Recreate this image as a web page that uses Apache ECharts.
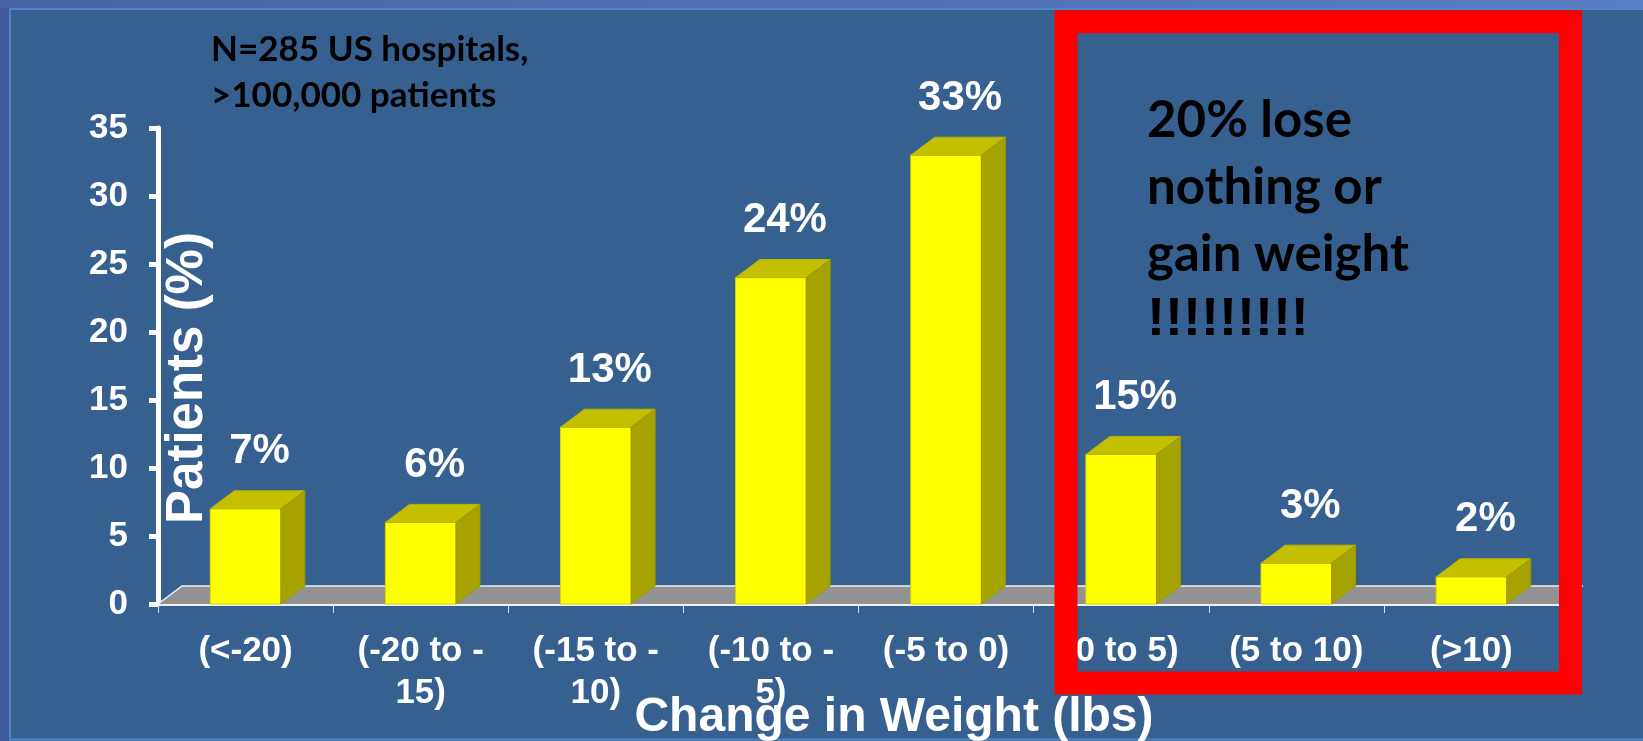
<!DOCTYPE html>
<html>
<head>
<meta charset="utf-8">
<style>
  html, body { margin: 0; padding: 0; background: #36608f; }
  #chart { width: 1643px; height: 741px; }
</style>
<script src="https://cdn.jsdelivr.net/npm/echarts@6/dist/echarts.min.js"></script>
</head>
<body>
<div id="chart"></div>
<script>
// ---- data ----
const categories = ['(<-20)', '(-20 to -15)', '(-15 to -10)', '(-10 to -5)', '(-5 to 0)', '(0 to 5)', '(5 to 10)', '(>10)'];
const patientsPct = [7, 6, 13, 24, 33, 11, 3, 2];
const barLabels = ['7%', '6%', '13%', '24%', '33%', '15%', '3%', '2%'];
const yAxisTitle = 'Patients (%)';
const xAxisTitle = 'Change in Weight (lbs)';
const noteText = ['N=285 US hospitals,', '>100,000 patients'];
const boxText = ['20% lose', 'nothing or', 'gain weight', '!!!!!!!!!'];

// ---- style ----
const ARIAL = '"Liberation Sans", Arial, sans-serif';
const CAL = 'Lato, "Open Sans", sans-serif';
const DX = 24, DY = 18;

const chart = echarts.init(document.getElementById('chart'), null, { renderer: 'canvas' });

function renderFloor(params, api) {
  const cs = params.coordSys;
  const y0 = api.coord([0, 0])[1];
  const l = cs.x, r = cs.x + cs.width;
  return {
    type: 'group',
    children: [
      { type: 'polygon', shape: { points: [[l, y0], [l + DX, y0 - DY], [r + DX, y0 - DY], [r, y0]] },
        style: { fill: '#929292' } },
      { type: 'polyline', shape: { points: [[l, y0], [l + DX, y0 - DY], [r + DX, y0 - DY]] },
        style: { stroke: '#f0f0f0', lineWidth: 1.5, fill: null } },
      { type: 'line', shape: { x1: l, y1: y0 + 1, x2: r, y2: y0 + 1 },
        style: { stroke: '#f0f0f0', lineWidth: 2 } }
    ]
  };
}

function renderBar(params, api) {
  const i = api.value(0), v = api.value(1);
  const base = api.coord([i, 0]);
  const top = api.coord([i, v]);
  const bw = api.size([1, 0])[0] * 0.403;
  const x0 = base[0] - bw / 2, x1 = base[0] + bw / 2;
  const y0 = base[1], y1 = top[1];
  return {
    type: 'group',
    children: [
      { type: 'rect', shape: { x: x0, y: y1, width: bw, height: y0 - y1 },
        style: { fill: '#ffff00', stroke: '#d8d800', lineWidth: 1 } },
      { type: 'polygon', shape: { points: [[x0, y1], [x0 + DX, y1 - DY], [x1 + DX, y1 - DY], [x1, y1]] },
        style: { fill: '#c4c000', stroke: '#b8b400', lineWidth: 1 } },
      { type: 'polygon', shape: { points: [[x1, y1], [x1 + DX, y1 - DY], [x1 + DX, y0 - DY], [x1, y0]] },
        style: { fill: '#a6a200', stroke: '#9c9800', lineWidth: 1 } },
      { type: 'text', x: base[0] + 14, y: y1 - 36,
        style: { text: barLabels[params.dataIndex], fill: '#ffffff', font: 'bold 42px ' + ARIAL,
                 align: 'center', verticalAlign: 'bottom' } }
    ]
  };
}

const option = {
  backgroundColor: '#36608f',
  animation: false,
  grid: { left: 158, right: 84, top: 128, bottom: 137, containLabel: false },
  xAxis: {
    type: 'category',
    data: categories,
    boundaryGap: true,
    axisLine: { show: true, lineStyle: { color: '#f0f0f0', width: 2 } },
    axisTick: { show: true, length: 9, lineStyle: { color: '#dddddd', width: 1 } },
    axisLabel: {
      color: '#ffffff', fontFamily: ARIAL, fontWeight: 'bold', fontSize: 35,
      lineHeight: 42, margin: 26, interval: 0,
      formatter: v => v.replace(' to -', ' to -\n')
    },
    splitLine: { show: false }
  },
  yAxis: {
    type: 'value', min: 0, max: 35, interval: 5,
    axisLine: { show: true, lineStyle: { color: '#ffffff', width: 5 } },
    axisTick: { show: true, length: 9, lineStyle: { color: '#ffffff', width: 5 } },
    axisLabel: { color: '#ffffff', fontFamily: ARIAL, fontWeight: 'bold', fontSize: 35, margin: 30 },
    splitLine: { show: false }
  },
  series: [
    { type: 'custom', name: 'floor', data: [[0, 0]], renderItem: renderFloor, silent: true, z: 1 },
    { type: 'custom', name: 'Patients', data: patientsPct.map((v, i) => [i, v]), renderItem: renderBar, z: 3,
      encode: { x: 0, y: 1 } }
  ],
  graphic: [
    { type: 'rect', shape: { x: 0, y: 0, width: 9, height: 741 }, style: { fill: '#3e5a9c' }, z: -5 },
    { type: 'rect', shape: { x: 0, y: 0, width: 1643, height: 8 },
      style: { fill: new echarts.graphic.LinearGradient(0, 0, 1, 0, [{ offset: 0, color: '#4762a6' }, { offset: 1, color: '#5a7ec4' }]) }, z: -5 },
    { type: 'polyline', shape: { points: [[10, 741], [10, 9], [1643, 9]] }, style: { stroke: '#4f85c6', lineWidth: 2, fill: null }, z: -4 },
    { type: 'line', shape: { x1: 9, y1: 739.5, x2: 1643, y2: 739.5 }, style: { stroke: '#4f85c6', lineWidth: 2 }, z: -4 },
    { type: 'text', x: 188, y: 378, rotation: Math.PI / 2,
      style: { text: yAxisTitle, fill: '#ffffff', font: 'bold 51px ' + ARIAL, align: 'center', verticalAlign: 'middle' }, z: 50 },
    { type: 'text', x: 894, y: 718,
      style: { text: xAxisTitle, fill: '#ffffff', font: 'bold 48px ' + ARIAL, align: 'center', verticalAlign: 'middle' }, z: 50 },
    { type: 'text', x: 211, y: 27,
      style: { text: noteText.join('\n'), fill: '#000000', font: 'bold 35px ' + CAL, lineHeight: 46, align: 'left', verticalAlign: 'top' }, z: 50 },
    { type: 'text', x: 1147, y: 87,
      style: { text: boxText.slice(0, 3).join('\n'), fill: '#000000', font: 'bold 51px ' + CAL, lineHeight: 67, align: 'left', verticalAlign: 'top' }, z: 50 },
    { type: 'text', x: 1147, y: 320,
      style: { text: boxText[3], fill: '#000000', font: 'bold 54px ' + ARIAL, align: 'left', verticalAlign: 'middle' }, z: 50 },
    { type: 'rect', shape: { x: 1066, y: 21.7, width: 504.5, height: 661.3 },
      style: { fill: null, stroke: '#ff0000', lineWidth: 23 }, z: 100 }
  ]
};
chart.setOption(option);
</script>
</body>
</html>
